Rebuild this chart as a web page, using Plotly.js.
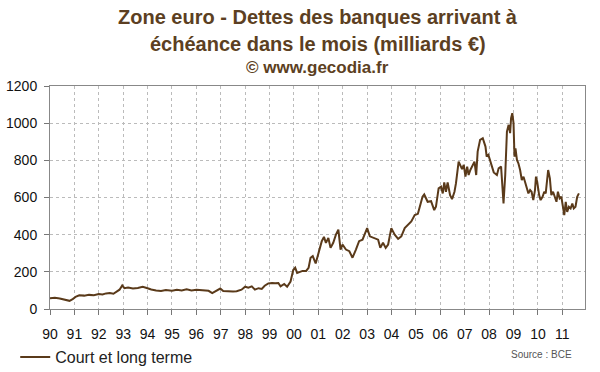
<!DOCTYPE html>
<html>
<head>
<meta charset="utf-8">
<script src="https://cdn.plot.ly/plotly-3.0.1.min.js"></script>
<style>
html,body{margin:0;padding:0;background:#fff;}
#chart{width:600px;height:372px;}
</style>
</head>
<body>
<div id="chart"></div>
<script>
// Decimal-year positions of the readings
const years = [
1990.0,1990.2,1990.4,1990.5,1990.65,1990.8,1990.93,1991.07,1991.2,1991.4,1991.6,1991.8,
1992.0,1992.15,1992.3,1992.45,1992.6,1992.7,1992.85,1992.96,1993.05,1993.2,1993.4,1993.6,1993.8,
1994.0,1994.15,1994.35,1994.55,1994.75,1995.0,1995.2,1995.4,1995.6,1995.8,1996.0,
1996.3,1996.5,1996.65,1996.78,1996.98,1997.1,1997.3,1997.5,1997.65,1997.85,
1998.0,1998.13,1998.27,1998.4,1998.55,1998.68,1998.8,1998.95,
1999.1,1999.23,1999.36,1999.45,1999.6,1999.72,1999.86,1999.97,
2000.05,2000.13,2000.25,2000.35,2000.5,2000.6,
2000.68,2000.77,2000.89,2001.04,2001.14,2001.23,2001.31,2001.41,2001.5,2001.61,2001.72,2001.82,2001.91,2001.99,
2002.13,2002.27,2002.4,2002.54,2002.67,2002.81,2002.9,
2003.0,2003.11,2003.31,2003.45,2003.54,2003.65,2003.76,2003.86,2003.99,
2004.13,2004.27,2004.4,2004.54,2004.67,2004.81,2004.95,2005.08,
2005.27,2005.34,2005.48,2005.62,2005.75,2005.82,2005.93,
2006.03,2006.1,2006.16,2006.23,2006.3,2006.4,2006.48,2006.58,2006.64,2006.75,2006.82,2006.89,2006.96,
2007.03,2007.1,2007.16,2007.23,2007.33,2007.4,2007.47,2007.53,2007.63,2007.74,2007.85,2007.9,2007.97,
2008.05,2008.19,2008.32,2008.39,2008.49,2008.54,2008.59,2008.66,2008.73,2008.8,2008.86,2008.9,2008.95,
2009.0,2009.04,2009.08,2009.14,2009.2,2009.27,2009.34,2009.41,2009.47,2009.54,2009.61,2009.68,2009.74,2009.81,2009.88,2009.92,2009.97,
2010.05,2010.11,2010.19,2010.26,2010.32,2010.42,2010.49,2010.55,2010.62,2010.69,2010.76,2010.82,2010.89,2010.96,
2011.03,2011.08,2011.14,2011.2,2011.27,2011.34,2011.41,2011.47,2011.54,2011.61,2011.68
];

// Court et long terme (milliards €)
const debts = [
58,60,57,53,46,44,53,67,74,72,76,74,
80,78,84,86,82,92,104,127,112,115,110,113,120,
112,105,100,97,102,98,104,100,106,100,103,
100,98,85,94,110,97,95,94,96,104,
120,115,122,104,112,108,125,138,
140,138,140,122,135,120,148,210,
222,194,200,205,205,222,
276,285,245,320,365,388,356,382,329,356,400,427,320,347,
320,311,276,320,365,373,400,
435,391,382,373,329,356,329,347,435,
400,377,391,435,453,471,506,512,
604,616,577,580,532,550,649,
658,622,681,631,681,613,591,631,676,793,775,753,775,
712,766,721,748,775,793,721,847,910,919,874,820,829,
790,735,721,757,766,649,568,721,955,991,946,1027,1054,
1000,820,865,802,784,748,694,712,685,658,622,640,631,586,640,712,685,
613,586,604,631,622,748,703,613,631,604,577,631,595,604,
541,505,577,523,550,541,568,541,550,604,622
];

const tickYears = [1990,1991,1992,1993,1994,1995,1996,1997,1998,1999,2000,2001,2002,2003,2004,2005,2006,2007,2008,2009,2010,2011];
const tickLabels = ['90','91','92','93','94','95','96','97','98','99','00','01','02','03','04','05','06','07','08','09','10','11'];
const yTicks = [0,200,400,600,800,1000,1200];

const seriesName = 'Court et long terme';
const titleLines = ['Zone euro - Dettes des banques arrivant à','échéance dans le mois (milliards €)','© www.gecodia.fr'];

const lineColor = '#5a3a1a';
const titleColor = '#5c3f22';
const fontFam = '"Liberation Sans", Arial, sans-serif';

const trace = {
  x: years, y: debts, type: 'scatter', mode: 'lines', name: seriesName,
  line: {color: lineColor, width: 2}
};

const layout = {
  width: 600, height: 372,
  margin: {l: 50, r: 15, t: 86, b: 63, autoexpand: false},
  paper_bgcolor: '#fff', plot_bgcolor: '#fff',
  font: {family: fontFam, color: '#111', size: 13},
  showlegend: true,
  legend: {x: -0.065, xanchor: 'left', y: -0.14, yanchor: 'top', orientation: 'h',
           font: {size: 16, color: '#222'}, bgcolor: 'rgba(0,0,0,0)'},
  xaxis: {
    range: [1990, 2011.93], tickvals: tickYears, ticktext: tickLabels,
    showline: true, mirror: true, linecolor: '#888', linewidth: 1,
    ticks: 'outside', ticklen: 5, tickcolor: '#777',
    showgrid: true, gridcolor: '#bbb', griddash: 'dot', gridwidth: 1,
    zeroline: false, tickfont: {size: 14, color: '#111'}, ticklabelstandoff: 7
  },
  yaxis: {
    range: [0, 1200], tickvals: yTicks,
    showline: true, mirror: true, linecolor: '#888', linewidth: 1,
    ticks: 'outside', ticklen: 5, tickcolor: '#777',
    showgrid: true, gridcolor: '#bbb', griddash: 'dot', gridwidth: 1,
    zeroline: false, tickfont: {size: 14, color: '#111'}, ticklabelstandoff: 4
  },
  annotations: [
    {text: titleLines[0], xref: 'paper', yref: 'paper', x: 0.5, y: 1.31, yanchor: 'middle', showarrow: false,
     font: {size: 20, color: titleColor, family: fontFam, weight: 'bold'}},
    {text: titleLines[1], xref: 'paper', yref: 'paper', x: 0.5, y: 1.19, yanchor: 'middle', showarrow: false,
     font: {size: 20, color: titleColor, family: fontFam, weight: 'bold'}},
    {text: titleLines[2], xref: 'paper', yref: 'paper', x: 0.5, y: 1.085, yanchor: 'middle', showarrow: false,
     font: {size: 17, color: titleColor, family: fontFam, weight: 'bold'}},
    {text: 'Source : BCE', xref: 'paper', yref: 'paper', x: 0.98, xanchor: 'right', y: -0.17, yanchor: 'top', showarrow: false,
     font: {size: 10, color: '#555', family: fontFam}}
  ]
};

Plotly.newPlot('chart', [trace], layout, {displayModeBar: false, staticPlot: true});
</script>
</body>
</html>
